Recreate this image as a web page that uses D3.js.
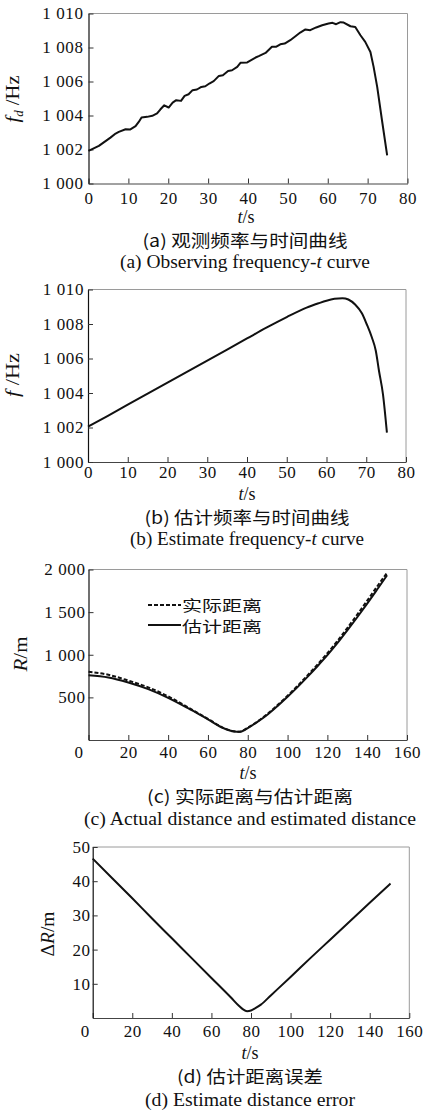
<!DOCTYPE html>
<html>
<head>
<meta charset="utf-8">
<script src="https://cdn.jsdelivr.net/npm/d3@7"></script>
<style>
  body { margin: 0; background: #fff; }
  svg { display: block; }
</style>
</head>
<body>
<div id="chart"></div>
<script>
// Four stacked panels: observed / estimated frequency, distance, distance error

// (a) observed frequency vs time
let obsT = [0, 2.6, 5.5, 6.8, 7.6, 9.3, 10.5, 11.8, 12.6, 13.3, 14.7, 16.0, 17.2, 18.0, 19.0,
  20.1, 21.1, 22.0, 23.2, 24.1, 25.1, 26.1, 27.2, 28.3, 29.3, 30.3, 31.4, 32.7, 33.7, 35.0,
  36.0, 37.3, 38.1, 39.8, 41.9, 42.7, 44.4, 46.0, 47.0, 48.1, 49.2, 50.6, 51.9, 53.1, 54.4,
  55.6, 57.1, 58.6, 60.2, 61.2, 62.1, 63.2, 64.0, 65.7, 66.9, 68.2, 69.4, 70.7, 71.5, 72.4,
  73.6, 74.9];
let obsF = [1001.92, 1002.21, 1002.7, 1002.94, 1003.04, 1003.19, 1003.18, 1003.37, 1003.62, 1003.88,
  1003.92, 1003.98, 1004.12, 1004.35, 1004.6, 1004.47, 1004.76, 1004.9, 1004.86, 1005.15,
  1005.25, 1005.49, 1005.53, 1005.68, 1005.72, 1005.88, 1006.02, 1006.33, 1006.37, 1006.62,
  1006.66, 1006.86, 1007.1, 1007.12, 1007.41, 1007.49, 1007.68, 1008.04, 1008.04, 1008.19,
  1008.23, 1008.43, 1008.66, 1008.88, 1009.06, 1009.02, 1009.18, 1009.31, 1009.41, 1009.45,
  1009.37, 1009.49, 1009.47, 1009.25, 1009.21, 1008.72, 1008.33, 1007.74, 1006.86, 1005.68,
  1003.72, 1001.66];

// (b) estimated frequency vs time
let estT = [0, 5, 10, 15, 20, 25, 30, 35, 40, 45, 50, 55, 58, 60, 62, 64,
  65.5, 67.2, 68.9, 70.1, 71.4, 72.4, 73.2, 74.2, 75.2];
let estF = [1002.05, 1002.68, 1003.32, 1003.96, 1004.6, 1005.24, 1005.88, 1006.52, 1007.16, 1007.8,
  1008.4, 1008.95, 1009.2, 1009.35, 1009.46, 1009.5, 1009.42, 1009.13, 1008.62, 1008.0,
  1007.23, 1006.45, 1005.29, 1003.94, 1001.7];

// (c) actual and estimated distance
let distT = [0, 10, 20, 30, 40, 50, 60, 68, 73, 76, 80, 85, 90, 95, 100, 105, 110, 115, 120,
  125, 130, 135, 140, 145, 150];
let actualR = [800, 765, 697, 618, 512, 382, 248, 140, 102, 97, 143, 219, 307, 410, 519, 635,
  757, 885, 1018, 1160, 1313, 1471, 1634, 1801, 1962];
let estimatedR = [760, 734, 675, 597, 495, 373, 242, 137, 100, 96, 140, 215, 300, 400, 507, 620,
  740, 865, 995, 1135, 1285, 1440, 1600, 1765, 1932];

// (d) distance error
let errT = [0, 10, 20, 30, 40, 50, 60, 70, 74, 76, 78, 80, 82, 85, 90, 100, 110, 120, 130, 140, 150.5];
let errR = [46.6, 40.8, 35.0, 29.1, 23.3, 17.5, 11.7, 5.9, 3.5, 2.5, 2.0, 2.2, 2.8, 3.9, 6.6,
  12.0, 17.5, 22.9, 28.3, 33.7, 39.3];

// tick values
let timeTicks80 = [0, 10, 20, 30, 40, 50, 60, 70, 80];
let timeTicks160 = [0, 20, 40, 60, 80, 100, 120, 140, 160];
let freqTicks = [1000, 1002, 1004, 1006, 1008, 1010];
let distTicks = [500, 1000, 1500, 2000];
let errTicks = [10, 20, 30, 40, 50];

let svgWidth = 426;
let svgHeight = 1111;
let serif = '"Liberation Serif", "Times New Roman", serif';
let cjk = '"Noto Sans CJK SC", sans-serif';

let svg = d3.select("#chart")
  .append("svg")
  .attr("width", svgWidth)
  .attr("height", svgHeight);

svg.append("rect")
  .attr("width", svgWidth)
  .attr("height", svgHeight)
  .attr("fill", "#fff");

// "1 010" style numbers
let spaceFormat = d3.formatLocale({ decimal: ".", thousands: " ", grouping: [3], currency: ["", ""] }).format(",");

// frame + inward ticks for one panel
function makePanel(p) {
  let x = d3.scaleLinear().domain(p.xDomain).range([p.left, p.right]);
  let y = d3.scaleLinear().domain(p.yDomain).range([p.bottom, p.top]);
  let g = svg.append("g");

  // light top / right border
  g.append("line")
    .attr("x1", p.left).attr("x2", p.right)
    .attr("y1", p.top).attr("y2", p.top)
    .attr("stroke", "#9a9a9a");
  g.append("line")
    .attr("x1", p.right).attr("x2", p.right)
    .attr("y1", p.top).attr("y2", p.bottom)
    .attr("stroke", "#9a9a9a");

  let xAxis = d3.axisBottom(x)
    .tickValues(p.xTicks)
    .tickSize(-5)
    .tickSizeOuter(0)
    .tickPadding(p.xPad)
    .tickFormat(d3.format("d"));
  let yAxis = d3.axisLeft(y)
    .tickValues(p.yTicks)
    .tickSize(-5)
    .tickSizeOuter(0)
    .tickPadding(p.yPad)
    .tickFormat(spaceFormat);

  let gx = g.append("g")
    .attr("transform", `translate(0, ${p.bottom})`)
    .call(xAxis);
  let gy = g.append("g")
    .attr("transform", `translate(${p.left}, 0)`)
    .call(yAxis);

  [gx, gy].forEach(a => {
    a.attr("font-family", serif).attr("font-size", 17);
    a.selectAll("text").attr("fill", "#111").attr("letter-spacing", 0.6);
    a.selectAll("line").attr("stroke", "#333");
  });
  gx.select(".domain").attr("stroke", "#444");
  gy.select(".domain").attr("stroke", "#111").attr("stroke-width", 1.2);

  // the "0" of the long time axis sits left of the corner
  if (p.zeroShift) {
    gx.selectAll(".tick text").filter(d => d === 0).attr("x", p.zeroShift);
  }
  return { x: x, y: y, g: g };
}

function drawLine(panel, xs, ys, curve, dash) {
  let line = d3.line()
    .x(d => panel.x(d[0]))
    .y(d => panel.y(d[1]))
    .curve(curve);
  panel.g.append("path")
    .datum(d3.zip(xs, ys))
    .attr("d", line)
    .attr("fill", "none")
    .attr("stroke", "#111")
    .attr("stroke-width", 2)
    .attr("stroke-linejoin", "round")
    .attr("stroke-dasharray", dash || null);
}

// rotated y title, built from [text, italic, dy, size] parts
function yTitle(parts, x, y, len) {
  let t = svg.append("text")
    .attr("transform", `translate(${x}, ${y}) rotate(-90)`)
    .attr("text-anchor", "middle")
    .attr("font-family", serif)
    .attr("font-size", 19)
    .attr("fill", "#111")
    .attr("textLength", len)
    .attr("lengthAdjust", "spacingAndGlyphs");
  parts.forEach(pt => {
    t.append("tspan")
      .attr("font-style", pt[1] ? "italic" : "normal")
      .attr("font-size", pt[3] || null)
      .attr("dy", pt[2] || 0)
      .text(pt[0]);
  });
}

function xTitle(cx, by) {
  let t = svg.append("text")
    .attr("x", cx).attr("y", by)
    .attr("text-anchor", "middle")
    .attr("font-family", serif)
    .attr("font-size", 18)
    .attr("fill", "#111");
  t.append("tspan").attr("font-style", "italic").text("t");
  t.append("tspan").text("/s");
}

function captions(zh, en, cx, zhY, zhLen, enY, enLen) {
  svg.append("text")
    .attr("x", cx).attr("y", zhY)
    .attr("text-anchor", "middle")
    .attr("font-family", cjk)
    .attr("font-size", 17)
    .attr("fill", "#111")
    .attr("textLength", zhLen)
    .attr("lengthAdjust", "spacingAndGlyphs")
    .text(zh);
  let t = svg.append("text")
    .attr("x", cx).attr("y", enY)
    .attr("text-anchor", "middle")
    .attr("font-family", serif)
    .attr("font-size", 18)
    .attr("fill", "#111")
    .attr("textLength", enLen)
    .attr("lengthAdjust", "spacingAndGlyphs");
  en.forEach(pt => {
    t.append("tspan").attr("font-style", pt[1] ? "italic" : "normal").text(pt[0]);
  });
}

// ---------- (a) ----------
let pa = makePanel({
  left: 88.5, right: 407.5, top: 13.5, bottom: 183.5,
  xDomain: [0, 80], yDomain: [1000, 1010],
  xTicks: timeTicks80, yTicks: freqTicks, xPad: 8, yPad: 5
});
drawLine(pa, obsT, obsF, d3.curveLinear);
yTitle([["f", true], ["d", true, 4, 12], [" /Hz", false, -4]], 19, 99, 47);
xTitle(246, 223);
captions("(a) 观测频率与时间曲线", [["(a) Observing frequency-", false], ["t", true], [" curve", false]],
  245, 247, 205, 268, 250);

// ---------- (b) ----------
let pb = makePanel({
  left: 88, right: 406, top: 289.5, bottom: 462,
  xDomain: [0, 80], yDomain: [1000, 1010],
  xTicks: timeTicks80, yTicks: freqTicks, xPad: 4, yPad: 4
});
drawLine(pb, estT, estF, d3.curveMonotoneX);
yTitle([["f", true], [" /Hz", false]], 19, 375, 44);
xTitle(247, 500);
captions("(b) 估计频率与时间曲线", [["(b) Estimate frequency-", false], ["t", true], [" curve", false]],
  247, 524, 205, 545, 234);

// ---------- (c) ----------
let pc = makePanel({
  left: 88.5, right: 407, top: 569.5, bottom: 740,
  xDomain: [0, 160], yDomain: [0, 2000],
  xTicks: timeTicks160, yTicks: distTicks, xPad: 6, yPad: 3, zeroShift: -10
});
drawLine(pc, distT, actualR, d3.curveMonotoneX, "4,2");
drawLine(pc, distT, estimatedR, d3.curveMonotoneX);
yTitle([["R", true], ["/m", false]], 27, 654, 35);
xTitle(248, 779);
captions("(c) 实际距离与估计距离", [["(c) Actual distance and estimated distance", false]],
  250, 803, 206, 825, 332);

// legend
let legendItems = [
  { label: "实际距离", dash: "4,2", y: 605, by: 611 },
  { label: "估计距离", dash: null, y: 625, by: 632 }
];
legendItems.forEach(d => {
  svg.append("line")
    .attr("x1", 148).attr("x2", 181)
    .attr("y1", d.y).attr("y2", d.y)
    .attr("stroke", "#111")
    .attr("stroke-width", 2)
    .attr("stroke-dasharray", d.dash);
  svg.append("text")
    .attr("x", 182).attr("y", d.by)
    .attr("font-family", cjk)
    .attr("font-size", 15)
    .attr("fill", "#111")
    .attr("textLength", 80)
    .attr("lengthAdjust", "spacingAndGlyphs")
    .text(d.label);
});

// ---------- (d) ----------
let pd = makePanel({
  left: 92.7, right: 409.3, top: 847, bottom: 1018,
  xDomain: [0, 160], yDomain: [0, 50],
  xTicks: timeTicks160, yTicks: errTicks, xPad: 7, yPad: 2, zeroShift: -8
});
drawLine(pd, errT, errR, d3.curveMonotoneX);
yTitle([["Δ", false], ["R", true], ["/m", false]], 54, 934, 45);
xTitle(250, 1059);
captions("(d) 估计距离误差", [["(d) Estimate distance error", false]],
  250, 1083, 146, 1106, 210);
</script>
</body>
</html>
